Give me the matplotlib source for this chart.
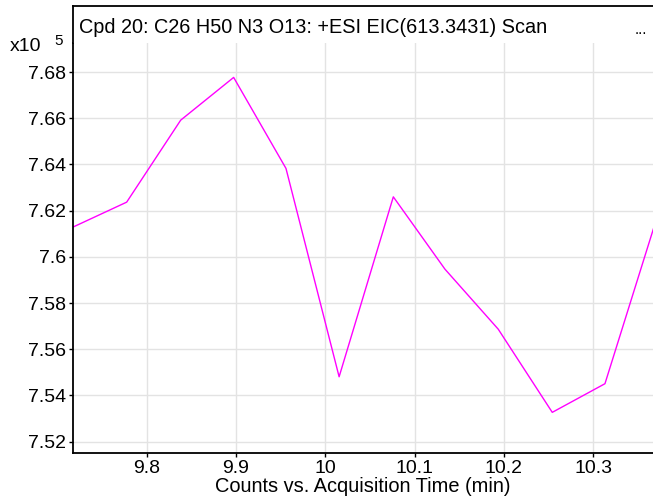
import matplotlib.pyplot as plt

plt.rcParams['font.family'] = ['Liberation Sans', 'DejaVu Sans']

# acquisition time (min) and counts (x10^5)
times = [9.718, 9.7776, 9.8381, 9.8974, 9.956, 10.0155, 10.0762,
         10.134, 10.1937, 10.2542, 10.3132, 10.373]
counts = [7.613, 7.6237, 7.6592, 7.6777, 7.6383, 7.5481, 7.626,
          7.5947, 7.5687, 7.5327, 7.5451, 7.619]

x_ticks = [9.8, 9.9, 10.0, 10.1, 10.2, 10.3]
x_tick_labels = ['9.8', '9.9', '10', '10.1', '10.2', '10.3']
y_ticks = [7.52, 7.54, 7.56, 7.58, 7.60, 7.62, 7.64, 7.66, 7.68]
y_tick_labels = ['7.52', '7.54', '7.56', '7.58', '7.6', '7.62', '7.64', '7.66', '7.68']

title = 'Cpd 20: C26 H50 N3 O13: +ESI EIC(613.3431) Scan'
fontsize = 14

fig = plt.figure(figsize=(6.53, 5), dpi=100)

# main plot area
ax = fig.add_axes([0.1118, 0.094, 0.8882, 0.82])
ax.plot(times, counts, color='#ff00ff', linewidth=1.0)
ax.set_xlim(9.7175, 10.367)
ax.set_ylim(7.5151, 7.6926)
ax.set_xticks(x_ticks, x_tick_labels, fontsize=fontsize)
ax.set_yticks(y_ticks, y_tick_labels, fontsize=fontsize)
ax.tick_params(length=3, width=1, pad=2)
ax.grid(color='#e3e3e3', linewidth=1.0)
ax.set_axisbelow(True)
for side in ['top', 'right']:
    ax.spines[side].set_visible(False)
for side in ['left', 'bottom']:
    ax.spines[side].set_linewidth(1.3)
ax.set_xlabel('Counts vs. Acquisition Time (min)', fontsize=14.4, labelpad=0)

# title band above the plot
tax = fig.add_axes([0.1118, 0.914, 0.8882, 0.074])
tax.set_xticks([])
tax.set_yticks([])
for side in ['bottom', 'right']:
    tax.spines[side].set_visible(False)
for side in ['left', 'top']:
    tax.spines[side].set_linewidth(1.3)
tax.text(0.01, 0.42, title, fontsize=14.3, va='center', ha='left', transform=tax.transAxes)
tax.text(0.99, 0.36, '...', fontsize=11, va='center', ha='right', transform=tax.transAxes)

# scale factor
fig.text(0.015, 0.907, 'x10', fontsize=fontsize, va='center', ha='left')
fig.text(0.083, 0.918, '5', fontsize=11, va='center', ha='left')

plt.savefig('out.png', dpi=100)
